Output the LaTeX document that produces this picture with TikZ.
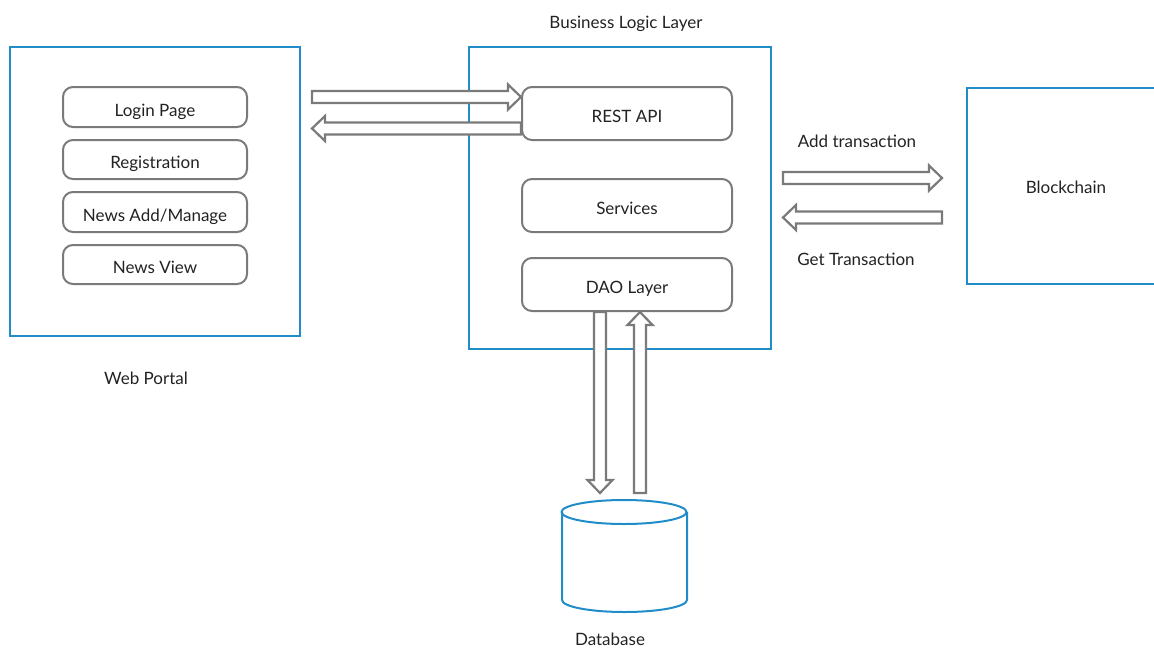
\documentclass[tikz,border=0pt]{standalone}
\usepackage{fontspec}
\setmainfont{Lato}
\usetikzlibrary{calc}

\definecolor{frameblue}{RGB}{32,140,200}
\definecolor{boxgray}{RGB}{122,122,122}
\definecolor{textdark}{RGB}{34,34,34}

\tikzset{
  layer/.style={draw=frameblue, line width=2pt, fill=none},
  module/.style={draw=boxgray, line width=2pt, rounded corners=10pt,
    minimum width=184pt, inner sep=0pt, text=textdark,
    text height=18pt, text depth=0pt},
  caption/.style={text=textdark, inner sep=0pt, text height=12pt, text depth=0pt},
  blockarr/.style={draw=boxgray, line width=2.2pt, fill=white, line join=miter},
}

% hollow block arrow from #1 to #2 (tip at #2)
\newcommand\blockarrow[2]{%
  \coordinate (hb) at ($(#2)!13pt!(#1)$);
  \draw[blockarr]
    ($(#1)!6pt!90:(#2)$) -- ($(hb)!6pt!90:(#2)$) -- ($(hb)!12.5pt!90:(#2)$)
    -- (#2)
    -- ($(hb)!12.5pt!-90:(#2)$) -- ($(hb)!6pt!-90:(#2)$) -- ($(#1)!6pt!-90:(#2)$)
    -- cycle;}

\begin{document}
\begin{tikzpicture}[x=1pt, y=-1pt, font=\fontsize{17}{20}\selectfont]
\path[use as bounding box, clip] (0,0) rectangle (1154,648);

% layer frames
\draw[layer] (10,47) rectangle (300,336);
\node[caption] (webcap) at (146,378) {Web Portal};

\draw[layer] (469,47) rectangle (771,349);
\node[caption] (blcap) at (626,22) {Business Logic Layer};

\node[layer, minimum width=198pt, minimum height=196pt] (chain) at (1066,185.5) {};
\node[caption] at ([yshift=-1.5pt]chain.center) {Blockchain};

% web portal pages
\node[module, minimum height=40pt] (login) at (155,107) {Login Page};
\node[module, minimum height=39pt] (reg)   at (155,159.5) {Registration};
\node[module, minimum height=40pt] (news)  at (155,212) {News Add/Manage};
\node[module, minimum height=39pt] (view)  at (155,264.5) {News View};

% business logic modules
\node[module, minimum width=210pt, minimum height=53pt] (rest) at (627,113.5) {REST API};
\node[module, minimum width=210pt, minimum height=53pt] (svc)  at (627,205.5) {Services};
\node[module, minimum width=210pt, minimum height=53pt] (dao)  at (627,284.5) {DAO Layer};

% database cylinder
\coordinate (db) at (624,556);
\draw[layer] (562,512) -- (562,600) arc[start angle=180, end angle=0, x radius=62.5, y radius=12]
  -- (687,512);
\draw[layer] (624,512) ellipse[x radius=62.5, y radius=12];
\node[caption] (dbcap) at (610,639) {Database};

% portal <-> REST API
\coordinate (p1s) at (312,97);
\coordinate (p1e) at (rest.west |- p1s);
\blockarrow{p1s}{p1e}
\coordinate (p2s) at (rest.west |- 0,128.5);
\coordinate (p2e) at (312,128.5);
\blockarrow{p2s}{p2e}

% business logic <-> blockchain
\coordinate (c1s) at (783,178);
\coordinate (c1e) at (942,178);
\blockarrow{c1s}{c1e}
\node[caption] (addcap) at (857,141) {Add transaction};
\coordinate (c2s) at (942,217.5);
\coordinate (c2e) at (783,217.5);
\blockarrow{c2s}{c2e}
\node[caption] (getcap) at (856,259) {Get Transaction};

% DAO <-> database
\coordinate (d1s) at (dao.south -| 600,0);
\coordinate (d1e) at (600,493);
\blockarrow{d1s}{d1e}
\coordinate (d2s) at (640,493);
\coordinate (d2e) at (dao.south -| 640,0);
\blockarrow{d2s}{d2e}
\end{tikzpicture}
\end{document}
